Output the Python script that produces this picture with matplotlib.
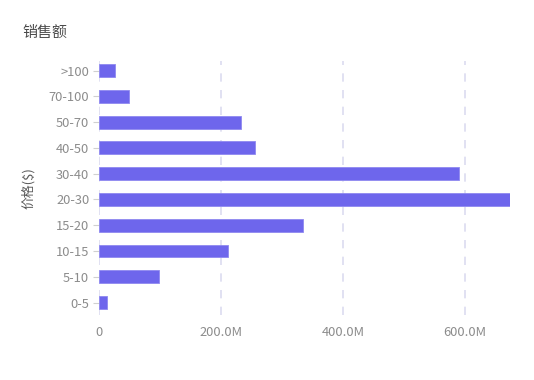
import matplotlib
matplotlib.use("Agg")
import matplotlib.pyplot as plt

plt.rcParams['font.family'] = ['Noto Sans CJK SC', 'DejaVu Sans']

categories = ["0-5", "5-10", "10-15", "15-20", "20-30", "30-40", "40-50", "50-70", "70-100", ">100"]
sales = [13e6, 99e6, 212e6, 334e6, 673e6, 591e6, 255e6, 232e6, 50e6, 27e6]
xticks = [0, 200e6, 400e6, 600e6]
xtick_labels = ["0", "200.0M", "400.0M", "600.0M"]

W, H = 534, 380
fig = plt.figure(figsize=(W / 100, H / 100), dpi=100)
left, right, top, bottom = 99, 509.5, 61, 315
ax = fig.add_axes([left / W, 1 - bottom / H, (right - left) / W, (bottom - top) / H])

ypos = list(range(len(categories)))
ax.barh(ypos, sales, height=0.5, color="#6e66ec", edgecolor="#8f89f0", linewidth=0.6, zorder=3)

ax.set_xlim(0, max(sales))
ax.set_ylim(-0.48, len(categories) - 1 + 0.37)
ax.set_yticks(ypos)
ax.set_yticklabels(categories)
ax.set_xticks(xticks)
ax.set_xticklabels(xtick_labels)

for x in xticks:
    ax.axvline(x, color="#dcdcf0", linestyle=(0, (5, 5)), linewidth=1.2, zorder=1)

for s in ax.spines.values():
    s.set_visible(False)

ax.tick_params(axis='y', length=4, width=0.8, color="#d0d0d0", labelcolor="#8c8c8c",
               labelsize=9.3, pad=3)
ax.tick_params(axis='x', length=0, labelcolor="#8c8c8c", labelsize=9.3, pad=8)

ax.set_ylabel("价格($)", fontsize=9.3, color="#595959", va="center")
ax.yaxis.set_label_coords(-71 / (right - left), 0.5)

fig.text(22 / W, 1 - 33 / H, "销售额", fontsize=10.8, color="#4a4a4a", va="center", ha="left")

fig.savefig("out.png", dpi=100, facecolor="white")
